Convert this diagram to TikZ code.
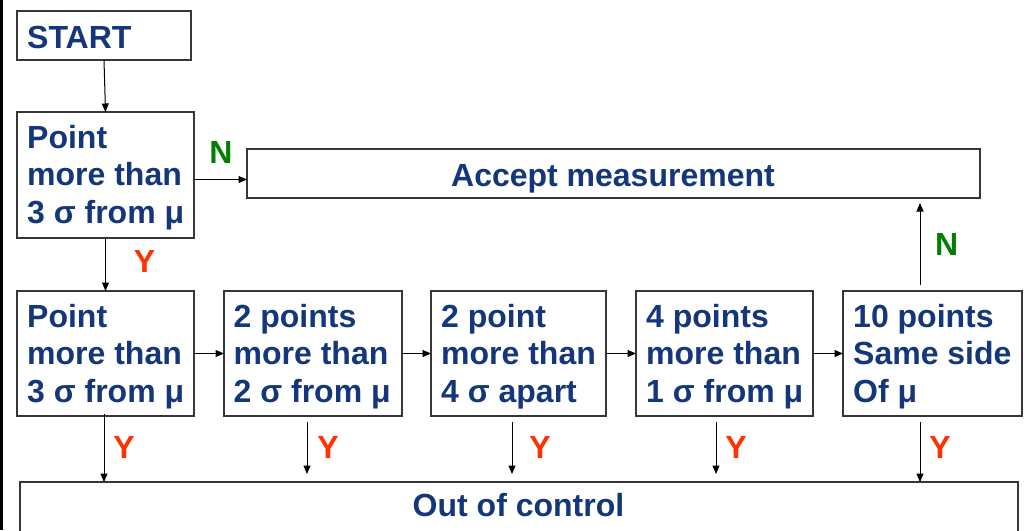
\documentclass[tikz,border=0pt]{standalone}
\usepackage{fontspec}
\setmainfont{Liberation Sans}
\usetikzlibrary{arrows.meta,calc}
\definecolor{navy}{RGB}{20,54,122}
\definecolor{ngreen}{RGB}{0,128,0}
\definecolor{yred}{RGB}{255,51,0}
\definecolor{frame}{RGB}{55,55,55}
\begin{document}
\begin{tikzpicture}[x=1pt,y=-1pt,
  box/.style={draw=frame, line width=1.3pt, inner sep=0pt, outer sep=0pt, anchor=north west},
  conn/.style={line width=1pt, draw=black, -{Triangle[length=8.5pt,width=7pt]}},
  txt/.style={font=\fontsize{32}{37.5}\selectfont\bfseries, text=navy, inner sep=0pt, align=left},
  lab/.style={font=\fontsize{32}{37.5}\selectfont\bfseries, inner sep=0pt, anchor=base}]
\fill[white] (0,0) rectangle (1027,530);
\useasboundingbox (0,0) rectangle (1027,530);
\fill[black] (0,0) rectangle (3,530);

% boxes
\node[box, minimum width=174pt, minimum height=49pt] (st) at (17,11) {};
\node[box, minimum width=177pt, minimum height=126pt] (p1) at (17,112) {};
\node[box, minimum width=733pt, minimum height=49pt] (acc) at (247,149) {};
\node[box, minimum width=177pt, minimum height=125pt] (r1) at (17,291) {};
\node[box, minimum width=178pt, minimum height=125pt] (r2) at (224,291) {};
\node[box, minimum width=175pt, minimum height=125pt] (r3) at (431,291) {};
\node[box, minimum width=177pt, minimum height=125pt] (r4) at (636,291) {};
\node[box, minimum width=179pt, minimum height=125pt] (r5) at (843,291) {};
\node[box, minimum width=998pt, minimum height=70pt] (out) at (20,482) {};

% texts
\node[txt, anchor=base west] (stt) at ([shift={(10pt,-37.3pt)}]st.north west) {START};
\node[txt, anchor=north west] (p1t) at ([shift={(10pt,-11pt)}]p1.north west) {\rule{0pt}{25pt}Point\\more than\\3 σ from μ};
\node[txt, anchor=base] (acct) at (613,186.7) {Accept measurement};
\node[txt, anchor=north west] (r1t) at ([shift={(10pt,-11pt)}]r1.north west) {\rule{0pt}{25pt}Point\\more than\\3 σ from μ};
\node[txt, anchor=north west] (r2t) at ([shift={(9.5pt,-11pt)}]r2.north west) {\rule{0pt}{25pt}2 points\\more than\\2 σ from μ};
\node[txt, anchor=north west] (r3t) at ([shift={(10pt,-11pt)}]r3.north west) {\rule{0pt}{25pt}2 point\\more than\\4 σ apart};
\node[txt, anchor=north west] (r4t) at ([shift={(10pt,-11pt)}]r4.north west) {\rule{0pt}{25pt}4 points\\more than\\1 σ from μ};
\node[txt, anchor=north west] (r5t) at ([shift={(10pt,-11pt)}]r5.north west) {\rule{0pt}{25pt}10 points\\Same side\\Of μ};
\node[txt, anchor=base] (outt) at (518.5,516.7) {Out of control};

% labels
\node[lab, text=ngreen] (n1) at (221,163) {N};
\node[lab, text=ngreen] (n2) at (946.7,255) {N};
\node[lab, text=yred] (y0) at (144.5,272) {Y};
\node[lab, text=yred] (y1) at (124,458) {Y};
\node[lab, text=yred] (y2) at (328,458) {Y};
\node[lab, text=yred] (y3) at (540,458) {Y};
\node[lab, text=yred] (y4) at (736,458) {Y};
\node[lab, text=yred] (y5) at (940,458) {Y};

% connector columns
\coordinate (ny) at (0,179.5);
\coordinate (x1) at (104,0);
\coordinate (x2) at (307,0);
\coordinate (x3) at (512,0);
\coordinate (x4) at (716,0);
\coordinate (x5) at (920,0);

% connectors
\draw[conn] (st.south) -- (p1.north);
\draw[conn] (p1.east |- ny) -- (acc.west |- ny);
\draw[conn] (p1.south) -- (r1.north);
\draw[conn] (r1.east) -- (r2.west);
\draw[conn] (r2.east) -- (r3.west);
\draw[conn] (r3.east) -- (r4.west);
\draw[conn] (r4.east) -- (r5.west);
\draw[conn] ($(r1.south -| x1)+(0,-2)$) -- (out.north -| x1);
\draw[conn] ($(r2.south -| x2)+(0,6)$) -- ($(out.north -| x2)+(0,-8)$);
\draw[conn] ($(r3.south -| x3)+(0,6)$) -- ($(out.north -| x3)+(0,-8)$);
\draw[conn] ($(r4.south -| x4)+(0,6)$) -- ($(out.north -| x4)+(0,-8)$);
\draw[conn] ($(r5.south -| x5)+(0,6)$) -- (out.north -| x5);
\draw[conn] ($(r5.north -| x5)+(0,-6)$) -- ($(acc.south -| x5)+(0,5)$);
\end{tikzpicture}
\end{document}
